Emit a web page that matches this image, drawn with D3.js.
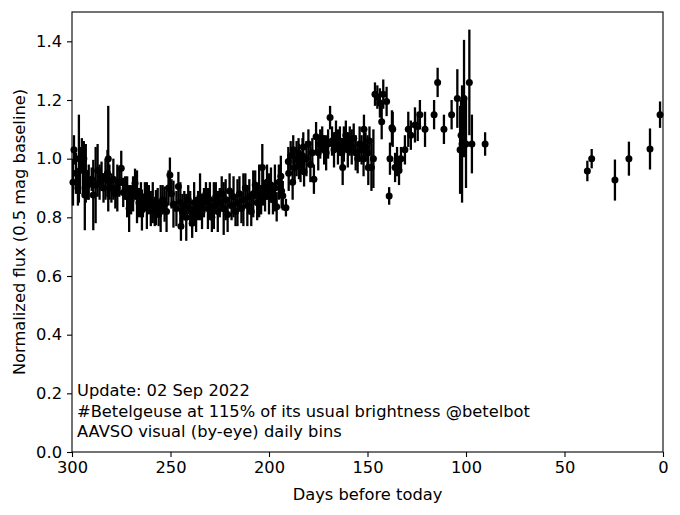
<!DOCTYPE html>
<html><head><meta charset="utf-8">
<script src="https://cdn.jsdelivr.net/npm/d3@7"></script>
<style>body{margin:0;background:#fff}svg{display:block}text{font-family:"DejaVu Sans",sans-serif}</style>
</head><body><div id="chart"></div>
<script>
// Days before today, normalized flux, error half-width
const days = [299.5,299,298,297,296.5,296,295,294.5,294,293.5,293,292,291.5,290,289.2,288,287,286,285,284,283,282,281.6,281,280,279,278,277,276,275,274,273,272,271,270,269,268,267,266,265,264.5,264,263,262,261,260,259,258,257.4,256.5,256,255,254,253,252,251,250.3,249.5,248.5,247,246,245,244.7,244,243,242,241,240,239,238,237,236,235,234,233,232,231,230,229,228,227,226,225,224,223,222,221,220,219,218,217,216,215,214,213,212,211,210,209,208,207,206,205,204,203.4,203,202,201,200,199,198,197,196.1,195,194,193.6,193,191.4,190.2,190,189,188,187.7,187,186,185,184.8,184,183,182.6,182.2,181,180,179,178,177.2,176.1,175,174,173,172,171,170,169,168,167,166,165,164,163,162.6,162,161,160,159,158,157,156,155,154,153,152,151.8,151,150,149.6,149,148,147,146.2,145,143.7,142.8,142,140.3,139,138.6,137.6,137.2,136,135,134,133,131,129.3,128,125.9,124.5,123.4,120.8,116.2,114.4,111.2,107.3,104.4,103,102.5,102,101,100,98.3,97,90.3,38.4,36.2,24.4,17.3,6.6,1.5];
const flux = [0.92,1.03,0.95,0.90,1.00,0.96,1.02,0.97,1.00,0.876,0.95,0.91,0.92,0.93,0.876,0.91,0.96,0.92,0.94,0.90,0.93,0.95,1.00,0.92,0.90,0.93,0.88,0.90,0.92,0.967,0.885,0.90,0.87,0.83,0.86,0.88,0.916,0.87,0.85,0.86,0.825,0.84,0.87,0.84,0.86,0.83,0.85,0.82,0.833,0.85,0.81,0.83,0.86,0.845,0.82,0.90,0.944,0.88,0.845,0.83,0.905,0.85,0.77,0.82,0.84,0.80,0.86,0.83,0.78,0.85,0.81,0.84,0.87,0.82,0.85,0.88,0.83,0.86,0.80,0.84,0.87,0.82,0.85,0.88,0.83,0.86,0.81,0.89,0.84,0.87,0.82,0.85,0.88,0.83,0.86,0.90,0.84,0.87,0.82,0.88,0.91,0.85,0.89,0.86,0.97,0.90,0.87,0.92,0.88,0.91,0.86,0.90,0.836,0.92,0.94,0.89,0.874,0.833,0.99,0.95,1.01,0.92,1.03,0.97,1.00,1.02,0.99,0.97,1.01,1.04,0.955,1.00,1.05,0.98,1.02,0.93,1.075,1.02,1.05,1.07,1.03,1.02,1.05,1.14,1.06,1.03,1.08,1.04,1.06,1.02,0.97,1.05,1.08,1.03,1.06,1.04,1.07,1.02,1.00,1.05,1.03,1.00,1.10,1.04,1.02,0.97,1.06,0.97,1.00,1.22,1.21,1.19,1.126,1.22,1.195,0.873,1.00,1.105,1.10,0.97,0.99,0.96,1.00,1.03,1.10,1.08,1.115,1.11,1.15,1.10,1.15,1.26,1.10,1.15,1.205,1.03,1.08,1.05,1.205,1.05,1.26,1.05,1.05,0.958,1.00,0.927,1.00,1.033,1.15];
const errs = [0.08,0.05,0.07,0.06,0.15,0.08,0.05,0.09,0.06,0.12,0.10,0.05,0.06,0.04,0.12,0.13,0.09,0.06,0.05,0.05,0.07,0.08,0.18,0.06,0.05,0.07,0.05,0.08,0.05,0.06,0.05,0.04,0.07,0.08,0.05,0.06,0.05,0.09,0.05,0.06,0.07,0.04,0.05,0.08,0.05,0.06,0.07,0.05,0.06,0.05,0.04,0.08,0.05,0.06,0.07,0.06,0.06,0.05,0.08,0.06,0.05,0.07,0.05,0.06,0.05,0.08,0.05,0.06,0.05,0.07,0.06,0.05,0.08,0.06,0.05,0.04,0.07,0.06,0.05,0.08,0.05,0.07,0.05,0.06,0.09,0.07,0.06,0.06,0.05,0.07,0.05,0.08,0.06,0.05,0.09,0.05,0.07,0.06,0.05,0.08,0.05,0.06,0.09,0.05,0.08,0.06,0.05,0.06,0.07,0.06,0.05,0.08,0.05,0.06,0.07,0.06,0.05,0.03,0.05,0.06,0.05,0.06,0.05,0.05,0.06,0.05,0.06,0.05,0.06,0.05,0.05,0.06,0.05,0.06,0.05,0.05,0.05,0.06,0.05,0.04,0.05,0.06,0.05,0.04,0.05,0.06,0.05,0.06,0.05,0.05,0.06,0.06,0.05,0.06,0.05,0.06,0.05,0.06,0.05,0.06,0.05,0.06,0.05,0.05,0.06,0.06,0.05,0.08,0.10,0.04,0.04,0.05,0.06,0.05,0.05,0.03,0.055,0.06,0.06,0.05,0.05,0.05,0.04,0.05,0.06,0.05,0.06,0.05,0.05,0.06,0.05,0.05,0.05,0.05,0.10,0.15,0.12,0.20,0.20,0.15,0.18,0.10,0.04,0.035,0.033,0.07,0.058,0.07,0.045,0.035];
const xTicks = [300,250,200,150,100,50,0];
const yTicks = [0.0,0.2,0.4,0.6,0.8,1.0,1.2,1.4];
const notes = ["Update: 02 Sep 2022","#Betelgeuse at 115% of its usual brightness @betelbot","AAVSO visual (by-eye) daily bins"];

const W=680,H=515, m={l:72,r:17,t:12,b:63};
const svg=d3.select("#chart").append("svg").attr("width",W).attr("height",H);
const x=d3.scaleLinear().domain([300,0]).range([m.l,W-m.r]);
const y=d3.scaleLinear().domain([0,1.5]).range([H-m.b,m.t]);
const data=days.map((d,i)=>({d,v:flux[i],e:errs[i]}));
const fs=16.3;

const g=svg.append("g");
g.selectAll("line.eb").data(data).join("line").attr("class","eb")
  .attr("x1",p=>x(p.d)).attr("x2",p=>x(p.d))
  .attr("y1",p=>y(p.v-p.e)).attr("y2",p=>y(p.v+p.e))
  .attr("stroke","#000").attr("stroke-width",2.3);
g.selectAll("circle").data(data).join("circle")
  .attr("cx",p=>x(p.d)).attr("cy",p=>y(p.v)).attr("r",3.5).attr("fill","#000");

// axes
const xa=svg.append("g").attr("transform",`translate(0,${H-m.b})`)
  .call(d3.axisBottom(x).tickValues(xTicks).tickFormat(d3.format("d")).tickSize(5).tickPadding(4).tickSizeOuter(0));
const ya=svg.append("g").attr("transform",`translate(${m.l},0)`)
  .call(d3.axisLeft(y).tickValues(yTicks).tickFormat(d3.format(".1f")).tickSize(5).tickPadding(5).tickSizeOuter(0));
[xa,ya].forEach(a=>{a.selectAll("text").attr("font-size",fs).attr("fill","#000").attr("font-family","DejaVu Sans");
  a.selectAll("line").attr("stroke","#000").attr("stroke-width",1.1);a.select(".domain").remove();});

svg.append("rect").attr("x",m.l).attr("y",m.t).attr("width",W-m.l-m.r).attr("height",H-m.t-m.b)
  .attr("fill","none").attr("stroke","#000").attr("stroke-width",1.1);

svg.append("text").attr("x",(m.l+W-m.r)/2).attr("y",500).attr("text-anchor","middle").attr("font-size",fs).text("Days before today");
svg.append("text").attr("transform",`translate(25,${(m.t+H-m.b)/2}) rotate(-90)`).attr("text-anchor","middle").attr("font-size",fs).text("Normalized flux (0.5 mag baseline)");

notes.forEach((t,i)=>svg.append("text").attr("x",77).attr("y",396+i*20.5).attr("font-size",fs).text(t));
</script></body></html>
